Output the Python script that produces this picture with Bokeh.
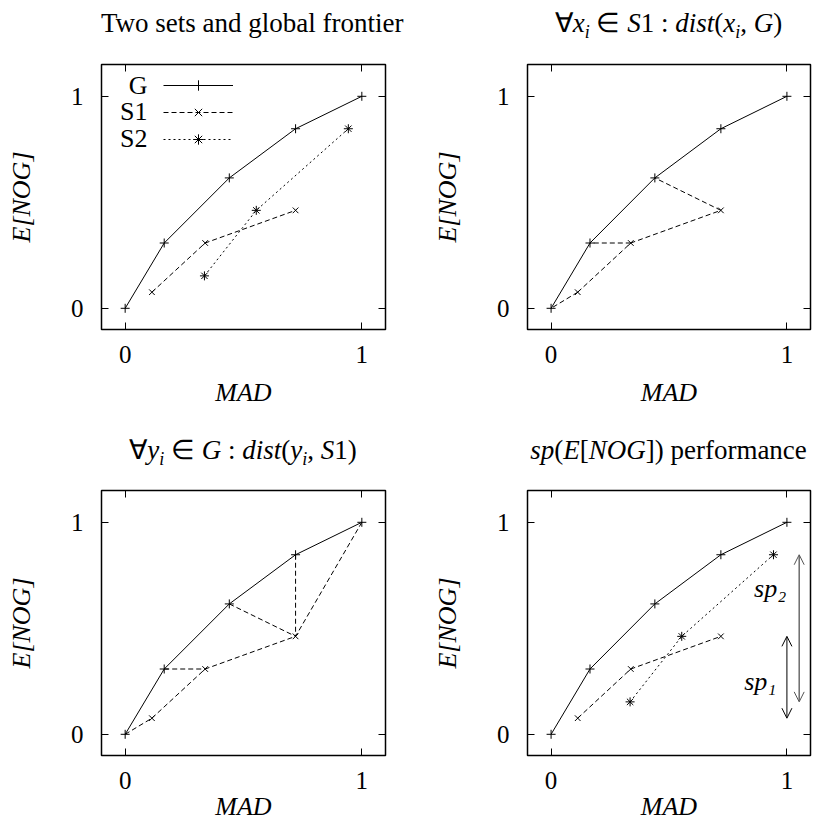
from bokeh.plotting import figure
from bokeh.models import (Range1d, FixedTicker, LinearAxis, Label, Legend, LegendItem,
                          Arrow, OpenHead, CustomJSTickFormatter, Div)
from bokeh.layouts import column, row
from bokeh.embed import file_html
from bokeh.resources import INLINE

# ---------------- data ----------------
g_x = [0.0, 0.165, 0.44, 0.72, 1.0]
g_y = [0.0, 0.308, 0.615, 0.847, 1.0]
s1_x = [0.113, 0.338, 0.72]
s1_y = [0.076, 0.308, 0.462]
s2_x = [0.335, 0.554, 0.943]
s2_y = [0.153, 0.462, 0.847]
# nearest-point pairings used for the distance panels
s1_to_g = [0, 1, 2]          # for each S1 point, index of nearest G point
g_to_s1 = [0, 1, 2, 2, 2]    # for each G point, index of nearest S1 point
ticks = [0, 1]
series_names = ["G", "S1", "S2"]
SUB = '<i style="font-size:18px;position:relative;top:6px">i</i>'
titles = ["Two sets and global frontier",
          "\u2200<i>x</i>" + SUB + " \u2208 <i>S</i>1 : <i>dist</i>(<i>x</i>" + SUB + ", <i>G</i>)",
          "\u2200<i>y</i>" + SUB + " \u2208 <i>G</i> : <i>dist</i>(<i>y</i>" + SUB + ", <i>S</i>1)",
          "<i>sp</i>(<i>E</i>[<i>NOG</i>]) performance"]
sp_labels = ["sp\u2081", "sp\u2082"]
x_label = "MAD"
y_label = "E[NOG]"

FONT = "Liberation Serif"
X_RANGE = (-0.1, 1.1)
Y_RANGE = (-0.1, 1.15)


def title_div(html, frame_left, frame_w, pad_top, height):
    inner = ('<div style="width:%dpx;margin-left:%dpx;padding-top:%dpx;text-align:center;'
             'font-family:\'Liberation Serif\',serif;font-size:27px;line-height:32px;'
             'white-space:nowrap;color:black">%s</div>') % (frame_w, frame_left, pad_top, html)
    return Div(text=inner, width=408, height=height, margin=(0, 0, 0, 0))


def make_fig(width, height, mb_left, mb_right, mb_top, mb_bottom,
             tick_standoff_x, label_standoff_x):
    p = figure(width=width, height=height,
               x_range=Range1d(*X_RANGE), y_range=Range1d(*Y_RANGE),
               output_backend="svg", toolbar_location=None, tools="",
               min_border_left=mb_left, min_border_right=mb_right,
               min_border_top=mb_top, min_border_bottom=mb_bottom,
               x_axis_label=x_label, y_axis_label=y_label)
    p.grid.visible = False
    p.background_fill_color = "white"
    p.border_fill_color = "white"
    p.outline_line_color = "black"
    p.outline_line_width = 1.5
    p.outline_line_alpha = 1.0
    for ax in p.axis:
        ax.ticker = FixedTicker(ticks=ticks)
        ax.major_tick_in = 7
        ax.major_tick_out = 0
        ax.major_tick_line_color = "black"
        ax.minor_tick_line_color = None
        ax.axis_line_color = None
        ax.major_label_text_font = FONT
        ax.major_label_text_font_size = "25px"
        ax.major_label_text_color = "black"
        ax.axis_label_text_font = FONT
        ax.axis_label_text_font_size = "26px"
        ax.axis_label_text_font_style = "italic"
        ax.axis_label_text_color = "black"
    p.xaxis.major_label_standoff = tick_standoff_x
    p.xaxis.axis_label_standoff = label_standoff_x
    p.yaxis.major_label_standoff = 18
    p.yaxis.axis_label_standoff = 32
    # mirrored tick marks on top and right
    for side in ("above", "right"):
        ax = LinearAxis(ticker=FixedTicker(ticks=ticks),
                        formatter=CustomJSTickFormatter(code="return ''"),
                        major_label_text_font_size="0px",
                        major_label_text_color=None,
                        major_label_standoff=0,
                        major_tick_in=7, major_tick_out=0,
                        major_tick_line_color="black",
                        minor_tick_line_color=None,
                        axis_line_color=None)
        p.add_layout(ax, side)
    return p


def draw_g(p):
    r1 = p.line(g_x, g_y, line_color="black", line_width=1)
    r2 = p.scatter(g_x, g_y, marker="cross", size=9, line_color="black", line_width=1)
    return [r1, r2]


def draw_s1(p):
    r1 = p.line(s1_x, s1_y, line_color="black", line_width=1, line_dash="5 3")
    r2 = p.scatter(s1_x, s1_y, marker="x", size=8, line_color="black", line_width=1)
    return [r1, r2]


def draw_s2(p):
    r1 = p.line(s2_x, s2_y, line_color="black", line_width=1, line_dash="2 3")
    r2 = p.scatter(s2_x, s2_y, marker="asterisk", size=9, line_color="black", line_width=1)
    return [r1, r2]


# ---------- panel 1 ----------
d1 = title_div(titles[0], 101, 284, 7, 40)
p1 = make_fig(408, 374, 101, 23, 24, 85, 16, 12)
rg = draw_g(p1)
rs1 = draw_s1(p1)
rs2 = draw_s2(p1)
legend = Legend(items=[LegendItem(label="", renderers=rg),
                       LegendItem(label="", renderers=rs1),
                       LegendItem(label="", renderers=rs2)],
                location=(62, 177), glyph_width=70, glyph_height=26,
                spacing=1, padding=0, margin=0, label_standoff=0, label_width=0,
                label_text_font_size="1px",
                border_line_color=None, background_fill_alpha=0)
p1.add_layout(legend)
for i, name in enumerate(series_names):
    p1.add_layout(Label(x=X_RANGE[0], y=Y_RANGE[1], x_offset=46, y_offset=-(20.5 + 26.5 * i),
                        text=name, text_align="right", text_baseline="middle",
                        text_font=FONT, text_font_size="26px", text_color="black"))

# ---------- panel 2 ----------
d2 = title_div(titles[1], 119, 283, 7, 40)
p2 = make_fig(408, 374, 119, 6, 24, 85, 16, 12)
draw_g(p2)
draw_s1(p2)
p2.segment(x0=s1_x, y0=s1_y,
           x1=[g_x[j] for j in s1_to_g], y1=[g_y[j] for j in s1_to_g],
           line_color="black", line_width=1, line_dash="5 3")

# ---------- panel 3 ----------
d3 = title_div(titles[2], 101, 284, 20, 52)
p3 = make_fig(408, 362, 101, 23, 24, 73, 16, 0)
draw_g(p3)
draw_s1(p3)
p3.segment(x0=g_x, y0=g_y,
           x1=[s1_x[j] for j in g_to_s1], y1=[s1_y[j] for j in g_to_s1],
           line_color="black", line_width=1, line_dash="5 3")

# ---------- panel 4 ----------
d4 = title_div(titles[3], 119, 283, 20, 52)
p4 = make_fig(408, 362, 119, 6, 24, 73, 16, 0)
draw_g(p4)
draw_s1(p4)
draw_s2(p4)
p4.add_layout(Arrow(x_start=1.0, y_start=min(s1_y), x_end=1.0, y_end=max(s1_y),
                    start=OpenHead(size=10, line_color="black", line_width=1),
                    end=OpenHead(size=10, line_color="black", line_width=1),
                    line_color="black", line_width=1))
p4.add_layout(Arrow(x_start=1.052, y_start=min(s2_y), x_end=1.052, y_end=max(s2_y),
                    start=OpenHead(size=10, line_color="#555555", line_width=1),
                    end=OpenHead(size=10, line_color="#555555", line_width=1),
                    line_color="#555555", line_width=1.3))
p4.add_layout(Label(x=0.955, y=0.247, text=sp_labels[0], text_align="right",
                    text_baseline="middle", text_font=FONT, text_font_size="26px",
                    text_font_style="italic", text_color="black"))
p4.add_layout(Label(x=0.997, y=0.69, text=sp_labels[1], text_align="right",
                    text_baseline="middle", text_font=FONT, text_font_size="26px",
                    text_font_style="italic", text_color="black"))

page = column(row(column(d1, p1), column(d2, p2)),
              row(column(d3, p3), column(d4, p4)))

open("out.html", "w").write(file_html(page, INLINE))
